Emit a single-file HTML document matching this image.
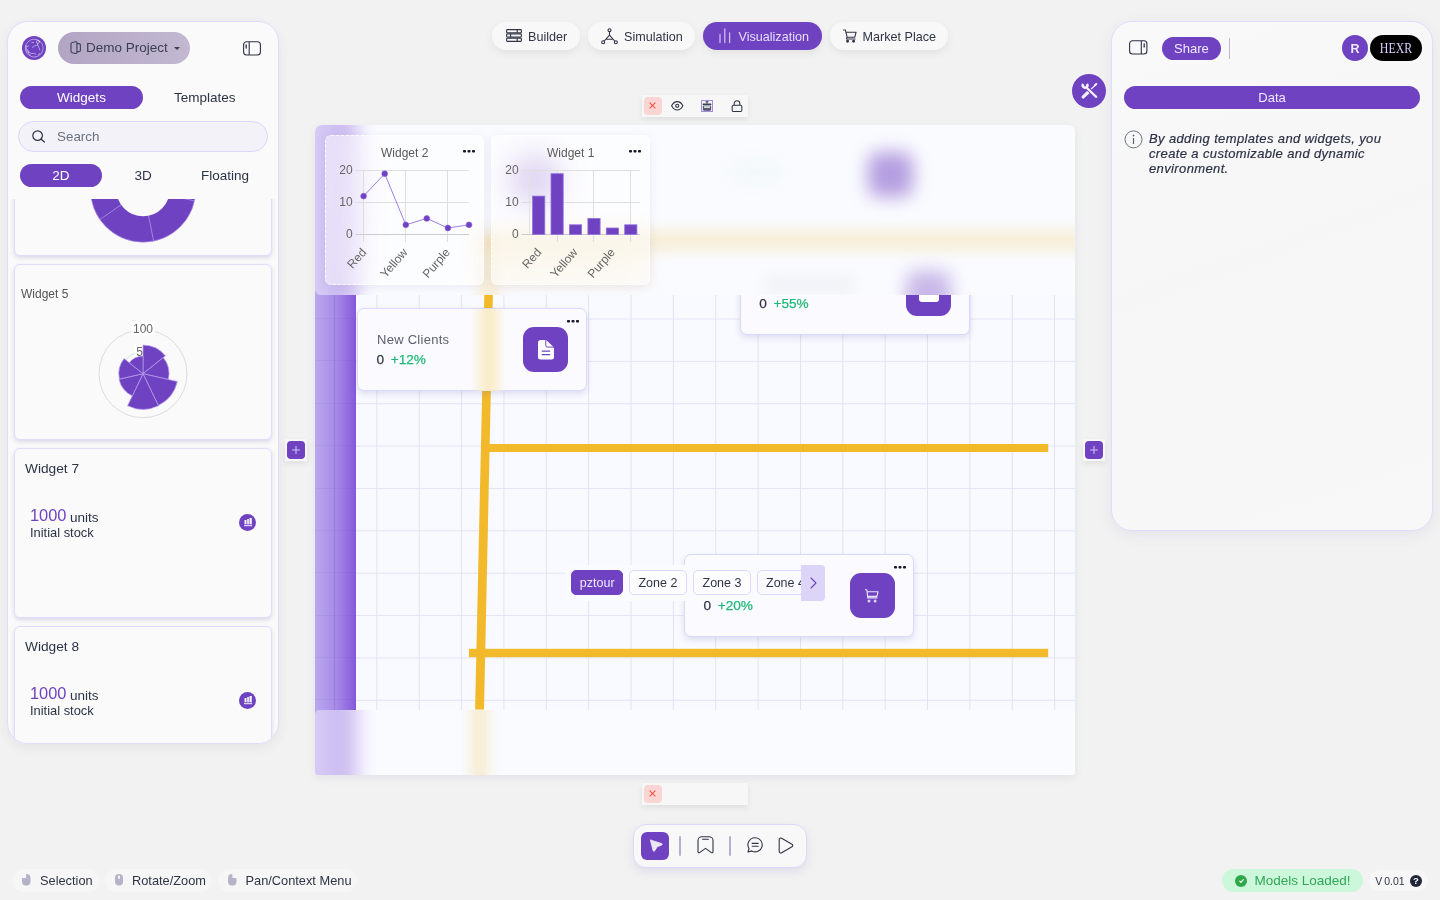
<!DOCTYPE html>
<html>
<head>
<meta charset="utf-8">
<title>Visualization</title>
<style>
*{box-sizing:border-box;margin:0;padding:0}
html,body{width:1440px;height:900px;overflow:hidden}
body{background:#f2f2f2;font-family:"Liberation Sans",sans-serif;color:#2b3344;position:relative;font-size:13px}
.abs{position:absolute}
.pill{position:absolute;border-radius:999px;display:flex;align-items:center;justify-content:center;white-space:nowrap}
.purple{background:#6f42c1;color:#fff}
.txt{position:absolute;white-space:nowrap;line-height:1}
.zt{z-index:3}
.vt{font-size:13.6px;-webkit-text-stroke:.25px currentColor}
svg{display:block;overflow:visible}

/* LEFT SIDEBAR */
#left{left:7px;top:21px;width:272px;height:723px;border-radius:21px;background:#fafafa;border:1px solid #dfdcff;box-shadow:0 4px 12px rgba(60,60,90,.07);overflow:hidden}
#left .card{position:absolute;width:258px;background:#fafafa;border:1px solid #dfdcff;border-radius:6px;box-shadow:0 2px 4px rgba(110,100,170,.22)}

.navp{background:#f8f8f8;box-shadow:0 3px 8px rgba(0,0,0,.07)}
.navt{font-size:12.6px;color:#2f3546}
.scard{position:absolute;width:229.8px;height:83.2px;margin:-.5px 0 0 -.6px;border-radius:7px;background:#fbfbff;border:1px solid #dcd8fd;box-shadow:0 3px 6px rgba(90,80,150,.16)}
.zp{height:24.5px;border-radius:5px;border:1px solid #dcd8fd;background:#fbfbff;font-size:12.5px;color:#2f3546;display:flex;align-items:center;justify-content:center;white-space:nowrap}
.wcard{position:absolute;width:159.2px;height:149.4px;border-radius:6px;border:1px dashed rgba(255,255,255,.85);background:linear-gradient(105deg,rgba(255,255,255,.5),rgba(255,255,255,.44) 40%);backdrop-filter:blur(9px);box-shadow:0 2px 10px rgba(120,110,170,.12)}
.plusb{width:21.5px;height:21.5px;background:#f7f7f7;box-shadow:0 3px 6px rgba(0,0,0,.08)}
.plusi{width:18px;height:18px;border-radius:4px;background:#6f42c1}
.hint{background:#f6f6f6}
/* RIGHT PANEL */
#right{left:1111px;top:21px;width:322px;height:509.5px;border-radius:21px;background:linear-gradient(160deg,#f9f9f9 0%,#f6f6f6 45%,#f8f8f8 100%);border:1px solid #dfdcff;box-shadow:0 4px 14px rgba(120,110,170,.10)}

/* CANVAS */
#canvas{left:315px;top:125px;width:760px;height:650px;border-radius:7px 7px 3px 3px;overflow:hidden;background:#f8faff;box-shadow:0 3px 8px rgba(100,100,140,.10)}
#grid{left:315px;top:125px;width:760px;height:650px;
 background-image:linear-gradient(to right,#e1e2f4 .85px,transparent .85px),linear-gradient(to bottom,#e3e4f5 .85px,transparent .85px);
 background-size:42.36px 42.36px;background-position:19px 24.1px}
</style>
</head>
<body>
<div id="root" style="position:absolute;left:0;top:0;width:1440px;height:900px;will-change:transform">

<!-- ================= LEFT SIDEBAR ================= -->
<div id="left" class="abs">
<div class="abs" style="left:-8px;top:-22px;width:1440px;height:900px">
  <!-- logo -->
  <div class="abs" style="left:22px;top:36px;width:24px;height:24px;border-radius:50%;background:#6f42c1"></div>
  <svg class="abs" style="left:22px;top:36px" width="24" height="24" viewBox="-12 -12 24 24" fill="none" stroke="rgba(255,255,255,.82)" stroke-width="0.6" stroke-linecap="round"><circle cx=".2" cy=".1" r="8.9" stroke-dasharray="6 .8 10 1.2 4 .8 8 1"/><path d="M-7.6-2.4C-8.4 1.5-6.5 5.4-3.4 7.2M-7-1.5l1.6-.5M-6.4 1.6l1.2 2.8M-5.4 4.2l1.4.2"/><circle cx="3.9" cy="-6.2" r="1.5"/><path d="M-1.7-.6.3-1.9 3.6-3.1M3.8-4.6 3.6-3.1 5.4.4l.3 1.4M-2.2-5.6l1.8.3M-3.2 5.6 .2 5.4l1.6.8M5.6 5.4 4.3 6.8"/></svg>
  <!-- project pill -->
  <div class="pill" style="left:58px;top:32px;width:132px;height:32px;background:linear-gradient(90deg,#b1a5c3,#c3b8d2)"></div>
  <svg class="abs" style="left:70px;top:40.6px" width="11.5" height="13.4" viewBox="0 0 11.5 13.4" fill="none" stroke="#3f4558" stroke-width="1.15" stroke-linejoin="round"><path d="M2.2 1.5 5.6.7a1 1 0 0 1 1.3 1v9.8a1 1 0 0 1-1.3 1L2.2 11.7A1.6 1.6 0 0 1 1 10.1V3.1a1.6 1.6 0 0 1 1.2-1.6z"/><path d="M6.9 2.7h2.3a1.2 1.2 0 0 1 1.2 1.2v5.6a1.2 1.2 0 0 1-1.2 1.2H6.9"/></svg>
  <div class="txt" id="t-demo" style="left:86px;top:40.5px;font-size:13.5px;color:#3a4052">Demo Project</div>
  <div class="abs" style="left:173.5px;top:46.5px;width:0;height:0;border-left:3px solid transparent;border-right:3px solid transparent;border-top:3.5px solid #3a4052"></div>
  <!-- toggle icon -->
  <svg class="abs" style="left:243px;top:40.5px" width="18" height="15" viewBox="0 0 18 15" fill="none" stroke="#2b3344" stroke-width="1.1"><rect x=".6" y=".8" width="16.8" height="13.2" rx="3"/><path d="M6.2 1v13"/><path d="M3.2 3.5v4" stroke-width="1.3"/></svg>
  <!-- tabs -->
  <div class="pill purple" style="left:20px;top:86px;width:123px;height:23px;font-size:13.5px" id="t-widgets">Widgets</div>
  <div class="txt" id="t-templates" style="left:174px;top:90.5px;font-size:13.5px;color:#2b3344">Templates</div>
  <!-- search -->
  <div class="abs" style="left:18px;top:121px;width:250px;height:31px;border-radius:16px;background:#f3f2f8;border:1px solid #d9d6ff"></div>
  <svg class="abs" style="left:32px;top:130px" width="14" height="13" viewBox="0 0 14 13" fill="none" stroke="#2b3344" stroke-width="1.2" stroke-linecap="round"><circle cx="5.6" cy="5.6" r="4.8"/><path d="M9.2 9.2 12.4 12"/></svg>
  <div class="txt" id="t-search" style="left:57px;top:129.8px;font-size:13.4px;color:#6b7080">Search</div>
  <!-- 2d/3d -->
  <div class="pill purple" style="left:20px;top:164px;width:82px;height:23px;font-size:13.5px">2D</div>
  <div class="txt" id="t-3d" style="left:134.5px;top:168.5px;font-size:13.5px;color:#2b3344">3D</div>
  <div class="txt" id="t-floating" style="left:201px;top:168.5px;font-size:13.5px;color:#2b3344">Floating</div>
  <!-- list (clipped) -->
  <div class="abs" style="left:0;top:199px;width:300px;height:560px;overflow:hidden">
   <div class="abs" style="left:0;top:-199px;width:1440px;height:900px">
    <div class="card" style="left:14px;top:150px;height:106px"></div>
    <svg class="abs" style="left:0;top:0" width="1440" height="900"><circle cx="143.1" cy="189.6" r="39.65" fill="none" stroke="#6f42c1" stroke-width="25.90"/><circle cx="143.1" cy="189.6" r="52.6" fill="none" stroke="#b79cf0" stroke-width="0.6"/><g stroke="#c3aef2" stroke-width="0.6"><line x1="143.1" y1="162.9" x2="143.1" y2="137.0"/><line x1="164.6" y1="173.8" x2="185.5" y2="158.5"/><line x1="169.2" y1="195.3" x2="194.5" y2="200.9"/><line x1="148.5" y1="215.8" x2="153.7" y2="241.1"/><line x1="121.1" y1="204.8" x2="99.9" y2="219.5"/><line x1="116.9" y1="184.2" x2="91.6" y2="179.0"/><line x1="128.6" y1="167.2" x2="114.5" y2="145.5"/></g></svg>
    <div class="card" style="left:14px;top:264px;height:175.6px"></div>
    <div class="txt" id="t-w5" style="left:21px;top:288px;font-size:12px;color:#555">Widget 5</div>
    <svg class="abs" style="left:0;top:0" width="1440" height="900"><circle cx="143" cy="373.7" r="44" fill="none" stroke="#dcdcdc" stroke-width="1"/><circle cx="143" cy="373.7" r="22" fill="none" stroke="#dcdcdc" stroke-width="1"/>
<rect x="131" y="321" width="24" height="14" fill="rgba(255,255,255,.75)"/><text x="143" y="333" font-size="12" fill="#666" text-anchor="middle" font-family="Liberation Sans">100</text>
<rect x="134.5" y="344" width="17" height="13" fill="rgba(255,255,255,.75)"/><text x="143" y="355.5" font-size="12" fill="#666" text-anchor="middle" font-family="Liberation Sans">50</text>
<g fill="#6f42c1" stroke="#b9a0ee" stroke-width="0.7" stroke-linejoin="round"><path d="M143 373.7L143.00 345.10A28.60 28.60 0 0 1 165.36 355.87Z"/><path d="M143 373.7L163.30 357.51A25.96 25.96 0 0 1 168.31 379.48Z"/><path d="M143 373.7L177.32 381.53A35.20 35.20 0 0 1 158.27 405.41Z"/><path d="M143 373.7L158.46 405.81A35.64 35.64 0 0 1 127.54 405.81Z"/><path d="M143 373.7L132.31 395.90A24.64 24.64 0 0 1 118.98 379.18Z"/><path d="M143 373.7L119.41 379.09A24.20 24.20 0 0 1 124.08 358.61Z"/><path d="M143 373.7L129.24 362.73A17.60 17.60 0 0 1 143.00 356.10Z"/></g></svg>
    <div class="card" style="left:14px;top:448px;height:169.6px"></div>
    <div class="txt" id="t-w7" style="left:25px;top:462px;font-size:13.7px;color:#2b3344">Widget 7</div>
    <div class="txt" style="left:30px;top:507px;font-size:16.4px;color:#6f42c1" id="t-1000a">1000</div>
    <div class="txt" style="left:70px;top:511px;font-size:13.5px;color:#2b3344" id="t-unitsa">units</div>
    <div class="txt" style="left:30px;top:527px;font-size:12.9px;color:#2b3344" id="t-inita">Initial stock</div>
    <div class="abs" style="left:239px;top:514px;width:17px;height:17px;border-radius:50%;background:#6f42c1"></div>
    <svg class="abs" style="left:243.5px;top:518.0px" width="8.2" height="8.4" viewBox="0 0 8.2 8.4" fill="#f6f1fe"><rect x=".5" y="2" width="2" height="4.4"/><rect x="3.2" y="1" width="1.7" height="5.4"/><rect x="5.5" y="0" width="2.3" height="6.4"/><rect x="0" y="7.2" width="8.2" height="1"/></svg>
    <div class="card" style="left:14px;top:626px;height:169px"></div>
    <div class="txt" id="t-w8" style="left:25px;top:640px;font-size:13.7px;color:#2b3344">Widget 8</div>
    <div class="txt" style="left:30px;top:685px;font-size:16.4px;color:#6f42c1">1000</div>
    <div class="txt" style="left:70px;top:689px;font-size:13.5px;color:#2b3344">units</div>
    <div class="txt" style="left:30px;top:705px;font-size:12.9px;color:#2b3344">Initial stock</div>
    <div class="abs" style="left:239px;top:692px;width:17px;height:17px;border-radius:50%;background:#6f42c1"></div>
    <svg class="abs" style="left:243.5px;top:696.0px" width="8.2" height="8.4" viewBox="0 0 8.2 8.4" fill="#f6f1fe"><rect x=".5" y="2" width="2" height="4.4"/><rect x="3.2" y="1" width="1.7" height="5.4"/><rect x="5.5" y="0" width="2.3" height="6.4"/><rect x="0" y="7.2" width="8.2" height="1"/></svg>
   </div>
  </div>
</div>
</div>

<!-- ================= TOP NAV ================= -->
<div id="nav">
  <div class="pill navp" style="left:492px;top:22px;width:88px;height:28px"></div>
  <svg class="abs" style="left:506px;top:29px" width="16" height="13" viewBox="0 0 16 13" fill="none" stroke="#2f3546" stroke-width="1.1"><rect x=".6" y=".6" width="14.8" height="3.2" rx=".8"/><rect x=".6" y="4.9" width="14.8" height="3.2" rx=".8"/><rect x=".6" y="9.2" width="14.8" height="3.2" rx=".8"/><path d="M11.2.6v3.2M4.6 4.9v3.2M11.2 9.2v3.2"/></svg>
  <div class="txt navt" id="n-builder" style="left:528px;top:30.9px">Builder</div>

  <div class="pill navp" style="left:588px;top:22px;width:107px;height:28px"></div>
  <svg class="abs" style="left:601px;top:28px" width="17" height="17" viewBox="0 0 17 17" fill="none" stroke="#2f3546" stroke-width="1.1" stroke-linecap="round"><circle cx="8.5" cy="2.2" r="1.5"/><circle cx="2.2" cy="14.2" r="1.5"/><circle cx="14.8" cy="14.2" r="1.5"/><path d="M8.5 3.8v3.4M8.5 7.2 3.3 13M8.5 7.2l5.2 5.8M5.4 11.2h6.2"/></svg>
  <div class="txt navt" id="n-sim" style="left:624px;top:30.9px">Simulation</div>

  <div class="pill navp" style="left:703px;top:22px;width:119px;height:28px;background:#6f42c1"></div>
  <svg class="abs" style="left:719px;top:28px" width="12" height="16" viewBox="0 0 12 16" fill="none" stroke="#cdbcf0" stroke-width="1.3" stroke-linecap="round"><path d="M1 6.5v8M5.8 1v13.5M10.6 5v9.5"/></svg>
  <div class="txt navt" id="n-vis" style="left:738.5px;top:30.9px;color:#e6dcfa">Visualization</div>

  <div class="pill navp" style="left:830px;top:22px;width:118px;height:28px"></div>
  <svg class="abs" style="left:843px;top:29px" width="14" height="14" viewBox="0 0 14 14" fill="none" stroke="#2f3546" stroke-width="1.1" stroke-linecap="round" stroke-linejoin="round"><path d="M.6 1h1.8l.5 2.2M2.9 3.2h10.2l-1.3 5H4.1zM4.1 8.2l-.6 1.8h8.6"/><circle cx="4.6" cy="12.2" r=".9" fill="#2f3546"/><circle cx="10.6" cy="12.2" r=".9" fill="#2f3546"/></svg>
  <div class="txt navt" id="n-market" style="left:862.5px;top:30.9px">Market Place</div>

  <!-- mini toolbar -->
  <div class="abs" style="left:642px;top:95px;width:106px;height:22px;background:#f7f7f7;box-shadow:0 3px 6px rgba(0,0,0,.08)"></div>
  <div class="abs" style="left:644px;top:97px;width:18px;height:18px;border-radius:4px;background:#f9d5d3"></div>
  <svg class="abs" style="left:649.1px;top:102.1px" width="7" height="7" viewBox="0 0 7 7" stroke="#f4564b" stroke-width="1.15" fill="none"><path d="M.6.6l5.8 5.8M6.4.6.6 6.4"/></svg>
  <svg class="abs" style="left:670.8px;top:101.2px" width="12.5" height="9.5" viewBox="0 0 12.5 9.5" fill="none" stroke="#2f3546" stroke-width="1.05"><path d="M.6 4.75C2.2 1.7 4.2.6 6.25.6s4.05 1.1 5.65 4.15C10.3 7.8 8.3 8.9 6.25 8.9S2.2 7.8.6 4.75z"/><circle cx="6.25" cy="4.75" r="1.55"/></svg>
  <div class="abs" style="left:701px;top:100px;width:12px;height:12px;border:1px solid #a88ae0"></div>
  <svg class="abs" style="left:702px;top:101px" width="10" height="10" viewBox="0 0 10 10" fill="#3a4052"><rect x="3.6" y=".2" width="2.8" height="1.2"/><rect x="4.5" y="1" width="1" height="1.6"/><rect x=".6" y="2.4" width="8.8" height="1.5" rx=".5"/><rect x=".8" y="4.6" width="8.4" height="4.6" rx=".8" fill="#5a6072"/><rect x="2" y="5.3" width="6" height="1.5" fill="#f2f2f2"/><rect x="1.4" y="8.6" width="7.2" height="1" /></svg>
  <svg class="abs" style="left:730.7px;top:100px" width="12" height="12" viewBox="0 0 12 12" fill="none" stroke="#2f3546" stroke-width="1.05"><rect x="1.2" y="5.2" width="9.6" height="6.2" rx="1.2"/><path d="M3.2 5.2V3.6a2.8 2.8 0 0 1 5.6 0v1.6"/></svg>
</div>

<!-- ================= CANVAS ================= -->
<div id="canvas" class="abs">
 <div class="abs" style="left:-315px;top:-125px;width:1440px;height:900px">
  <div id="grid" class="abs"></div>
  <!-- purple bar -->
  <div class="abs" style="left:315px;top:286px;width:41px;height:432px;background:linear-gradient(90deg,#b9a8ee 0%,#a68ae6 52%,#8558dc 100%)"></div>
  <div class="abs" style="left:334px;top:286px;width:1px;height:432px;background:rgba(90,60,190,.2)"></div><div class="abs" style="left:315px;top:318.0px;width:41px;height:1px;background:rgba(90,60,190,.08)"></div><div class="abs" style="left:315px;top:360.4px;width:41px;height:1px;background:rgba(90,60,190,.08)"></div><div class="abs" style="left:315px;top:402.7px;width:41px;height:1px;background:rgba(90,60,190,.08)"></div><div class="abs" style="left:315px;top:445.1px;width:41px;height:1px;background:rgba(90,60,190,.08)"></div><div class="abs" style="left:315px;top:487.5px;width:41px;height:1px;background:rgba(90,60,190,.08)"></div><div class="abs" style="left:315px;top:529.9px;width:41px;height:1px;background:rgba(90,60,190,.08)"></div><div class="abs" style="left:315px;top:572.2px;width:41px;height:1px;background:rgba(90,60,190,.08)"></div><div class="abs" style="left:315px;top:614.6px;width:41px;height:1px;background:rgba(90,60,190,.08)"></div><div class="abs" style="left:315px;top:657.0px;width:41px;height:1px;background:rgba(90,60,190,.08)"></div><div class="abs" style="left:315px;top:699.3px;width:41px;height:1px;background:rgba(90,60,190,.08)"></div>
  <!-- yellow lines -->
  <svg class="abs" style="left:0;top:0" width="1440" height="900"><g fill="#f2ba2b"><path d="M484.3 295h8.6L484 709.5h-8.9z"/><rect x="488" y="444" width="560.2" height="8"/><rect x="469" y="648.8" width="579.2" height="8.4"/></g></svg>
  
  <div class="scard" style="left:357.8px;top:308.6px"></div>
  <div class="txt" style="left:377.0px;top:333.1px;font-size:13px;letter-spacing:.27px;color:#5b6170">New Clients</div>
  <div class="txt zt vt" style="left:376.4px;top:352.9px;color:#2f3546">0</div>
  <div class="txt zt vt" id="c1" style="left:390.7px;top:352.9px;color:#1fb877">+12%</div>
  <div class="abs" style="left:523.0px;top:327.20000000000005px;width:45px;height:44.6px;border-radius:11px;background:#6f42c1"></div>
  <svg class="abs" style="left:537.5px;top:340.1px" width="16" height="19.6" viewBox="0 0 16 20.2" preserveAspectRatio="none"><path d="M2.6 0H8.2L16 7.7v9.9a2.6 2.6 0 0 1-2.6 2.6H2.6A2.6 2.6 0 0 1 0 17.600V2.6A2.6 2.6 0 0 1 2.600 0z" fill="#fff"/><path d="M7.8-.2V5.700a1.600 1.600 0 0 0 1.600 1.600H16.200" fill="none" stroke="#6f42c1" stroke-width="1"/><rect x="3.6" y="10.700" width="8.700" height="1.400" rx=".7" fill="#6f42c1"/><rect x="3.600" y="14.500" width="8.700" height="1.200" rx=".6" fill="#6f42c1"/></svg>
  <svg class="abs" style="left:567.2px;top:320.20000000000005px" width="12" height="3" viewBox="0 0 12 3" fill="#16172b"><rect x="0" y="0" width="3" height="2.6" rx=".8"/><rect x="4.5" y="0" width="3" height="2.6" rx=".8"/><rect x="9" y="0" width="3" height="2.6" rx=".8"/></svg>
  <div class="abs" style="left:469.5px;top:309px;width:36px;height:81.5px;background:linear-gradient(90deg,rgba(250,238,205,0),rgba(250,236,200,.95) 45%,rgba(250,236,200,.95) 60%,rgba(250,238,205,0))"></div>
  
  <div class="scard" style="left:740.6px;top:252.2px"></div>
  
  <div class="txt zt vt" style="left:759.2px;top:296.7px;color:#2f3546">0</div>
  <div class="txt zt vt" id="c2" style="left:773.5px;top:296.7px;color:#1fb877">+55%</div>
  <div class="abs" style="left:905.8px;top:271.4px;width:45px;height:44.8px;border-radius:11px;background:#6f42c1"></div>
  <svg class="abs" style="left:918.8px;top:282.4px" width="20" height="20" viewBox="0 0 20 20"><rect x="0" y="0" width="20" height="20" rx="3" fill="#fff"/></svg>
  <svg class="abs" style="left:950.0px;top:263.8px" width="12" height="3" viewBox="0 0 12 3" fill="#16172b"><rect x="0" y="0" width="3" height="2.6" rx=".8"/><rect x="4.5" y="0" width="3" height="2.6" rx=".8"/><rect x="9" y="0" width="3" height="2.6" rx=".8"/></svg>
  
  <div class="scard" style="left:684.9px;top:554.4px"></div>
  
  <div class="txt zt vt" style="left:703.5px;top:599.2px;color:#2f3546">0</div>
  <div class="txt zt vt" id="c3" style="left:717.8px;top:599.2px;color:#1fb877">+20%</div>
  <div class="abs" style="left:850.0999999999999px;top:573.0px;width:45px;height:44.6px;border-radius:11px;background:#6f42c1"></div>
  <svg class="abs" style="left:864.9px;top:589.1px" width="14" height="14" viewBox="0 0 14 14" fill="none" stroke="#ebe4fb" stroke-width="1.15" stroke-linecap="round" stroke-linejoin="round"><path d="M.5.5 1.900 1.300 2.700 8.300M2.100 2.700H13.100L11.900 7.300H2.800M2.700 8.900H12"/><circle cx="4" cy="12" r="1.500" fill="#ddd1f7" stroke="none"/><circle cx="10.100" cy="12" r="1.500" fill="#ddd1f7" stroke="none"/></svg>
  <svg class="abs" style="left:894.3px;top:566.0px" width="12" height="3" viewBox="0 0 12 3" fill="#16172b"><rect x="0" y="0" width="3" height="2.6" rx=".8"/><rect x="4.5" y="0" width="3" height="2.6" rx=".8"/><rect x="9" y="0" width="3" height="2.6" rx=".8"/></svg>
  <!-- zones strip -->
  <div class="abs" style="left:565px;top:564.6px;width:260px;height:36.2px;background:#fafbff"></div>
  <div class="abs zp" style="left:571.2px;top:570.4px;width:52px;background:#6f42c1;border-color:#6f42c1;color:#f0e9ff" id="z1">pztour</div>
  <div class="abs zp" style="left:629.2px;top:570.4px;width:57.4px;background:#fdfdff" id="z2">Zone 2</div>
  <div class="abs zp" style="left:693.3px;top:570.4px;width:57.4px;background:#fdfdff">Zone 3</div>
  <div class="abs" style="left:757px;top:564.6px;width:44px;height:36.2px;overflow:hidden"><div class="abs zp" style="left:0;top:5.8px;width:57px">Zone 4</div></div>
  <div class="abs" style="left:801px;top:564.6px;width:24px;height:36.2px;background:#ddd5f7;border-radius:0 4px 4px 0"></div>
  <svg class="abs" style="left:809.5px;top:576.5px" width="7" height="12" viewBox="0 0 7 12" fill="none" stroke="#6f42c1" stroke-width="1.1" stroke-linecap="round" stroke-linejoin="round"><path d="M1 1l5 5-5 5"/></svg>

  <!-- TOP FROSTED PANEL -->
  <div class="abs" style="left:315px;top:125px;width:760px;height:170px;background:#fafbff;overflow:hidden;border-radius:0 0 0 6px">
    <div class="abs" style="left:-20px;top:-30px;width:61px;height:230px;background:linear-gradient(90deg,#b7a4ec,#8456db);filter:blur(10px);opacity:.43"></div>
    <div class="abs" style="left:165px;top:111px;width:700px;height:9px;background:#f2ba2b;filter:blur(9px);opacity:.42"></div>
    <div class="abs" style="left:169px;top:112px;width:9px;height:90px;background:#f2ba2b;filter:blur(8px);opacity:.38"></div>
    <div class="abs" style="left:182px;top:118px;width:150px;height:40px;background:#f2ba2b;filter:blur(13px);opacity:.13"></div>
    <div class="abs" style="left:553px;top:27px;width:45px;height:45px;border-radius:11px;background:#6f42c1;filter:blur(9px);opacity:.5"></div>
    <div class="abs" style="left:591px;top:146px;width:45px;height:45px;border-radius:11px;background:#6f42c1;filter:blur(9px);opacity:.36"></div>
    <div class="abs" style="left:197px;top:32px;width:45px;height:45px;border-radius:11px;background:#6f42c1;filter:blur(11px);opacity:.42"></div>
    <div class="abs" style="left:415px;top:40px;width:50px;height:14px;background:#22b573;filter:blur(10px);opacity:.06"></div>
    <div class="abs" style="left:450px;top:154px;width:90px;height:12px;background:#555c6e;filter:blur(8px);opacity:.08"></div>
  </div>
  <div class="wcard" style="left:325.3px;top:135.3px"></div>
  <div class="wcard" style="left:491.3px;top:135.3px"></div>
  <div class="txt" id="w2t" style="left:381px;top:146.5px;font-size:12px;color:#5a5a5a">Widget 2</div>
  <div class="txt" id="w1t" style="left:547px;top:146.5px;font-size:12px;color:#5a5a5a">Widget 1</div>
  <svg class="abs" style="left:463.1px;top:150px" width="12" height="3" viewBox="0 0 12 3" fill="#16172b"><rect x="0" y="0" width="3" height="2.6" rx=".8"/><rect x="4.5" y="0" width="3" height="2.6" rx=".8"/><rect x="9" y="0" width="3" height="2.6" rx=".8"/></svg><svg class="abs" style="left:629.1px;top:150px" width="12" height="3" viewBox="0 0 12 3" fill="#16172b"><rect x="0" y="0" width="3" height="2.6" rx=".8"/><rect x="4.5" y="0" width="3" height="2.6" rx=".8"/><rect x="9" y="0" width="3" height="2.6" rx=".8"/></svg>
  <div class="txt" style="right:1087.4px;top:164.1px;font-size:12px;color:#666">20</div><div class="txt" style="right:1087.4px;top:196.1px;font-size:12px;color:#666">10</div><div class="txt" style="right:1087.4px;top:228.0px;font-size:12px;color:#666">0</div><div class="txt" style="right:921.4px;top:164.1px;font-size:12px;color:#666">20</div><div class="txt" style="right:921.4px;top:196.1px;font-size:12px;color:#666">10</div><div class="txt" style="right:921.4px;top:228.0px;font-size:12px;color:#666">0</div>
  <svg class="abs" style="left:0;top:0" width="1440" height="900">
 <g stroke="#dedede" stroke-width="1" fill="none"><path d="M355.5 170.5H469M355.5 202.5H469M363.5 170.5V242M405.5 170.5V242M447.5 170.5V242"/><path d="M355.5 234.5H469" stroke="#cccccc"/></g>
 <polyline points="363.6,196.1 384.7,173.7 405.8,224.8 426.8,218.4 447.9,228.0 469.0,224.8" fill="none" stroke="#a07ce8" stroke-width="1"/>
 <g fill="#6f42c1" stroke="#8a5fdc" stroke-width=".6"><circle cx="363.6" cy="196.1" r="2.9"/><circle cx="384.7" cy="173.7" r="2.9"/><circle cx="405.8" cy="224.8" r="2.9"/><circle cx="426.8" cy="218.4" r="2.9"/><circle cx="447.9" cy="228.0" r="2.9"/><circle cx="469.0" cy="224.8" r="2.9"/></g></svg><svg class="abs" style="left:0;top:0" width="1440" height="900">
 <g stroke="#dedede" stroke-width="1" fill="none"><path d="M521.5 170.5H640M521.5 202.5H640M557.5 170.5V242M593.5 170.5V242M630.5 170.5V242"/><path d="M529.5 170.5V234.5" stroke="#e2e2e2"/><path d="M521.5 234.5H640" stroke="#cccccc"/></g>
 <g fill="#6f42c1" stroke="#9470e0" stroke-width=".8"><rect x="532.6" y="196.1" width="12.2" height="38.3"/><rect x="551.0" y="173.7" width="12.2" height="60.7"/><rect x="569.4" y="224.8" width="12.2" height="9.6"/><rect x="587.9" y="218.4" width="12.2" height="16.0"/><rect x="606.3" y="228.0" width="12.2" height="6.4"/><rect x="624.7" y="224.8" width="12.2" height="9.6"/></g></svg>
  <div class="txt" style="right:1076.4px;top:243.8px;font-size:12px;color:#666;transform-origin:100% 50%;transform:rotate(-49deg)">Red</div><div class="txt" style="right:1034.5px;top:243.8px;font-size:12px;color:#666;transform-origin:100% 50%;transform:rotate(-49deg)">Yellow</div><div class="txt" style="right:992.7px;top:243.8px;font-size:12px;color:#666;transform-origin:100% 50%;transform:rotate(-49deg)">Purple</div>
  <div class="txt" style="right:901.3px;top:243.8px;font-size:12px;color:#666;transform-origin:100% 50%;transform:rotate(-49deg)">Red</div><div class="txt" style="right:864.4px;top:243.8px;font-size:12px;color:#666;transform-origin:100% 50%;transform:rotate(-49deg)">Yellow</div><div class="txt" style="right:827.6px;top:243.8px;font-size:12px;color:#666;transform-origin:100% 50%;transform:rotate(-49deg)">Purple</div>

  <!-- BOTTOM FROSTED PANEL -->
  <div class="abs" style="left:315px;top:709.5px;width:760px;height:65.5px;background:#fafbff;overflow:hidden;border-radius:5px 0 0 0">
    <div class="abs" style="left:-20px;top:-30px;width:61px;height:130px;background:linear-gradient(90deg,#b7a4ec,#8456db);filter:blur(10px);opacity:.43"></div>
    <div class="abs" style="left:159.5px;top:-30px;width:9px;height:130px;background:#f2ba2b;filter:blur(8px);opacity:.42"></div>
  </div>
 </div>
</div>

<!-- ================= RIGHT PANEL ================= -->
<div id="right" class="abs"></div>
<div id="rp">
  <svg class="abs" style="left:1128.5px;top:39.9px" width="18.5" height="15" viewBox="0 0 18.5 15" fill="none" stroke="#2b3344" stroke-width="1.1"><rect x=".6" y=".8" width="17.3" height="13.2" rx="3"/><path d="M12.3 1v13"/><path d="M15.2 3.5v4" stroke-width="1.3"/></svg>
  <div class="pill purple" id="r-share" style="left:1162px;top:37px;width:58.8px;height:23px;font-size:13px;color:#f1eaff">Share</div>
  <div class="abs" style="left:1229px;top:38px;width:1px;height:20.5px;background:#b9b9c4"></div>
  <div class="pill purple" style="left:1342px;top:35px;width:26px;height:26px;font-size:12.5px;font-weight:bold;color:#f1eaff;padding-top:1px">R</div>
  <div class="pill" style="left:1370.3px;top:35px;width:51.7px;height:26px;background:#000;color:#dccbfb;font-family:'Liberation Serif',serif;font-size:14px"><span style="display:inline-block;transform:translate(0,.9px) scaleX(.85)">HEXR</span></div>
  <div class="pill purple" id="r-data" style="left:1123.7px;top:86.4px;width:296.8px;height:22.8px;font-size:13px;color:#f1eaff">Data</div>
  <svg class="abs" style="left:1124px;top:130px" width="19" height="19" viewBox="0 0 19 19" fill="none" stroke="#5d6373" stroke-width=".9"><circle cx="9.5" cy="9.4" r="8.5"/><path d="M9.5 8v6" stroke-width="1.2"/><circle cx="9.5" cy="5.6" r=".55" fill="#5d6373"/></svg>
  <div class="abs" id="r-info" style="left:1149px;top:130.8px;font-size:13px;line-height:15px;font-style:italic;color:#2c3246;white-space:nowrap;letter-spacing:.37px;-webkit-text-stroke:.2px #2c3246">By adding templates and widgets, you<br>create a customizable and dynamic<br>environment.</div>
</div>
<!-- tools button -->
<div class="abs" style="left:1072px;top:74px;width:34px;height:34px;border-radius:50%;background:#6f42c1"></div>
<svg class="abs" style="left:1080.5px;top:82px" width="17" height="17" viewBox="0 0 17 17" fill="none" stroke="#f4effd" stroke-linecap="round"><path d="M2.2 14.9 7.2 10.2" stroke-width="3.3"/><path d="M9.6 7.6 14.6 2.7" stroke-width="1.3"/><path d="M14 3.2 15.3 1.9" stroke-width="2.1"/><path d="M5.5 5.5 15.6 15.2" stroke-width="3.9" stroke="#6f42c1" stroke-linecap="butt"/><path d="M6 6 15.2 14.8" stroke-width="2.3"/><path d="M5.9 1.9A2.3 2.3 0 1 1 2.2 2" stroke-width="2.5" stroke-linecap="butt"/></svg>
<!-- plus buttons -->
<div class="abs plusb" style="left:285.3px;top:439.3px"></div><div class="abs plusi" style="left:287px;top:441px"></div>
<svg class="abs" style="left:292px;top:446px" width="8" height="8" viewBox="0 0 8 8" stroke="#cdbdf2" stroke-width="1.1"><path d="M4 0v8M0 4h8"/></svg>
<div class="abs plusb" style="left:1083.3px;top:439.3px"></div><div class="abs plusi" style="left:1085px;top:441px"></div>
<svg class="abs" style="left:1090px;top:446px" width="8" height="8" viewBox="0 0 8 8" stroke="#cdbdf2" stroke-width="1.1"><path d="M4 0v8M0 4h8"/></svg>

<!-- ================= BOTTOM ================= -->
<div id="bottom">
  <!-- second mini toolbar -->
  <div class="abs" style="left:642px;top:783px;width:106px;height:21.7px;background:#f7f7f7;box-shadow:0 3px 6px rgba(0,0,0,.08)"></div>
  <div class="abs" style="left:644.2px;top:785px;width:17.8px;height:17.6px;border-radius:4px;background:#f9d5d3"></div>
  <svg class="abs" style="left:649.3px;top:790.1px" width="7" height="7" viewBox="0 0 7 7" stroke="#f4564b" stroke-width="1.15" fill="none"><path d="M.6.6l5.8 5.8M6.4.6.6 6.4"/></svg>
  <!-- tool pill -->
  <div class="abs" style="left:633.3px;top:824.2px;width:173.4px;height:43.4px;border-radius:13px;background:#f8f8f8;border:1px solid #dcd8fd;box-shadow:0 4px 10px rgba(110,100,170,.14)"></div>
  <div class="abs" style="left:641.2px;top:832px;width:27.6px;height:28px;border-radius:6px;background:#6f42c1"></div>
  <svg class="abs" style="left:648.5px;top:839px" width="14" height="13" viewBox="0 0 14 13"><path d="M1.3.9 12.7 4.6a.8.8 0 0 1 0 1.5L8.3 7.7 5.6 11.9a.8.8 0 0 1-1.45-.25z" fill="#ede6fb" stroke="#ede6fb" stroke-width=".8" stroke-linejoin="round"/></svg>
  <div class="abs" style="left:679px;top:836px;width:2px;height:20px;background:#b3b1cc;border-radius:1px"></div>
  <svg class="abs" style="left:696.5px;top:836px" width="17" height="18" viewBox="0 0 17 18" fill="none" stroke="#2f3546" stroke-width="1.1" stroke-linejoin="round" stroke-linecap="round"><path d="M1 4.6A3.8 3.8 0 0 1 4.8.8h7.4A3.8 3.8 0 0 1 16 4.6v11.2a1 1 0 0 1-1.6.8L8.5 12.4 2.6 16.6A1 1 0 0 1 1 15.8z"/><path d="M5.6 3.2h5.8"/></svg>
  <div class="abs" style="left:729px;top:836px;width:2px;height:20px;background:#b3b1cc;border-radius:1px"></div>
  <svg class="abs" style="left:747px;top:837px" width="16" height="16" viewBox="0 0 16 16" fill="none" stroke="#2f3546" stroke-width="1.1" stroke-linecap="round" stroke-linejoin="round"><path d="M8.2.8a7 7 0 1 1-3.4 13.1L1 15l1-3.5A7 7 0 0 1 8.2.8z"/><path d="M5.2 6.4h6M5.2 9.2h6"/></svg>
  <svg class="abs" style="left:777.5px;top:837px" width="16" height="17" viewBox="0 0 16 17" fill="none" stroke="#2f3546" stroke-width="1.1" stroke-linejoin="round"><path d="M1.2 2.6A1.6 1.6 0 0 1 3.6 1.2l10.4 6a1.5 1.5 0 0 1 0 2.6l-10.4 6a1.6 1.6 0 0 1-2.4-1.4z"/></svg>

  <!-- hints -->
  <div class="pill hint" style="left:12px;top:869px;width:87.5px;height:23px"></div>
  <div class="pill hint" style="left:105px;top:869px;width:107px;height:23px"></div>
  <div class="pill hint" style="left:218px;top:869px;width:139px;height:23px"></div>
  <svg class="abs" style="left:21.7px;top:874.3px" width="8.5" height="11.5" viewBox="0 0 8.5 11.5"><path d="M4.1 0h.3A4.1 4.1 0 0 1 8.5 4.1v3.3A4.1 4.1 0 0 1 4.4 11.5h-.3A4.1 4.1 0 0 1 0 7.4V4.6a.5.5 0 0 1 .5-.5h3.1a.5.5 0 0 0 .5-.5z" fill="#b5b3c7"/></svg>
  <svg class="abs" style="left:115.2px;top:874.4px" width="8" height="11.5" viewBox="0 0 8 11.5"><rect x="0" y="0" width="8" height="11.5" rx="4" fill="#b5b3c7"/><rect x="3" y="1.5" width="2" height="3.6" rx="1" fill="#f6f6f6"/></svg>
  <svg class="abs" style="left:227.5px;top:874.3px;transform:scaleX(-1)" width="8.5" height="11.5" viewBox="0 0 8.5 11.5"><path d="M4.1 0h.3A4.1 4.1 0 0 1 8.5 4.1v3.3A4.1 4.1 0 0 1 4.4 11.5h-.3A4.1 4.1 0 0 1 0 7.4V4.6a.5.5 0 0 1 .5-.5h3.1a.5.5 0 0 0 .5-.5z" fill="#b5b3c7"/></svg>
  <div class="txt" id="h1" style="left:40px;top:875px;font-size:12.8px;color:#2f3546">Selection</div>
  <div class="txt" id="h2" style="left:132px;top:875px;font-size:12.8px;color:#2f3546">Rotate/Zoom</div>
  <div class="txt" id="h3" style="left:245.5px;top:875px;font-size:12.8px;color:#2f3546">Pan/Context Menu</div>

  <!-- status -->
  <div class="pill" style="left:1222.2px;top:868.8px;width:140.6px;height:22.9px;background:#cdf7da"></div>
  <div class="abs" style="left:1235px;top:874.8px;width:12px;height:12px;border-radius:50%;background:#2fa84a"></div>
  <svg class="abs" style="left:1238.6px;top:878.8px" width="5" height="4" viewBox="0 0 5 4" fill="none" stroke="#fff" stroke-width="1.1" stroke-linecap="round" stroke-linejoin="round"><path d="M.7 2.1 1.9 3.3 4.3.7"/></svg>
  <div class="txt" id="s1" style="left:1254.5px;top:874px;font-size:13.5px;color:#2fa65a">Models Loaded!</div>
  <div class="pill" style="left:1368.8px;top:869.7px;width:59px;height:21.6px;background:#f7f7f7"></div>
  <div class="txt" id="s2" style="left:1375.3px;top:875.5px;font-size:10.5px;word-spacing:-1px;color:#2f3546">V 0.01</div>
  <div class="abs" style="left:1410px;top:874.8px;width:12px;height:12px;border-radius:50%;background:#1f2637;color:#fff;font-size:9.5px;font-weight:bold;text-align:center;line-height:12.5px">?</div>
</div>

</div>
</body>
</html>
